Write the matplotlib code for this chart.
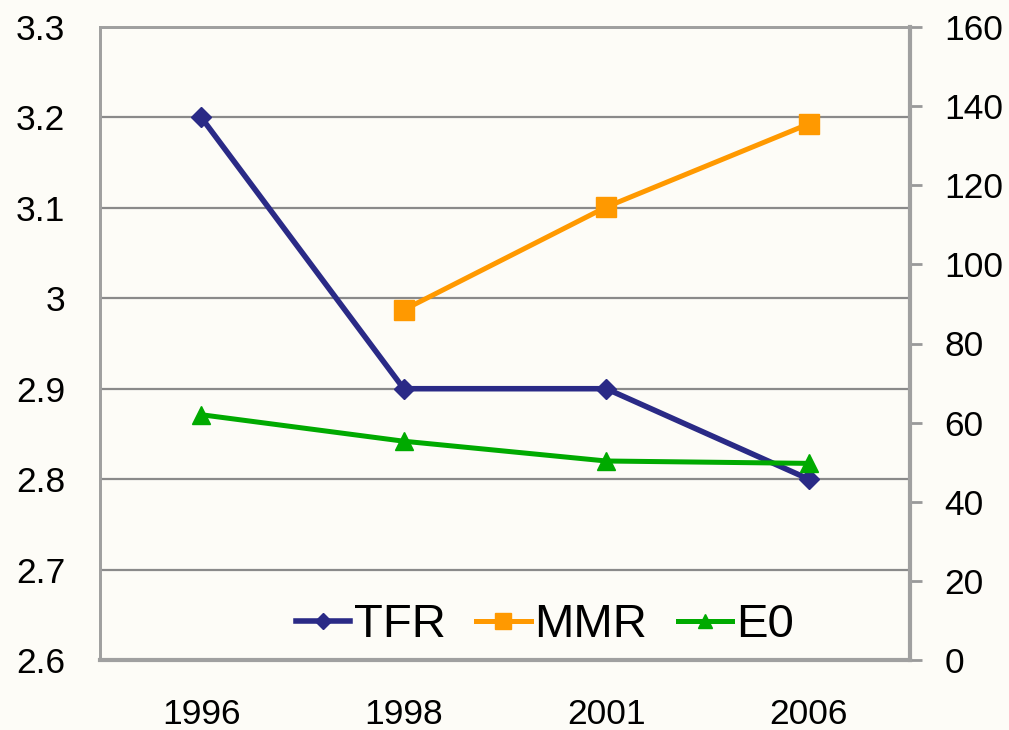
import matplotlib
matplotlib.use("Agg")
import matplotlib.pyplot as plt

years = ["1996", "1998", "2001", "2006"]
tfr = [3.2, 2.9, 2.9, 2.8]
mmr = [None, 88.5, 114.5, 135.5]
e0 = [62, 55.3, 50.3, 49.7]
left_ticks = [2.6, 2.7, 2.8, 2.9, 3.0, 3.1, 3.2, 3.3]
left_labels = ["2.6", "2.7", "2.8", "2.9", "3", "3.1", "3.2", "3.3"]
right_ticks = [0, 20, 40, 60, 80, 100, 120, 140, 160]

plt.rcParams['font.family'] = ['Liberation Sans', 'DejaVu Sans']
bg = "#fdfcf7"
fig = plt.figure(figsize=(10.09, 7.30), dpi=100, facecolor=bg)
ax = fig.add_axes([100/1009, 70/730, 810/1009, 633/730], facecolor=bg)
ax2 = ax.twinx()

x = list(range(len(years)))
navy = "#2a2a86"
orange = "#ff9900"
green = "#00aa00"

l1, = ax.plot(x, tfr, color=navy, lw=4, marker="D", ms=10, label="TFR", zorder=5)
mx = [i for i, v in enumerate(mmr) if v is not None]
my = [v for v in mmr if v is not None]
l2, = ax2.plot(mx, my, color=orange, lw=3.6, marker="s", ms=14, label="MMR", zorder=5)
l3, = ax2.plot(x, e0, color=green, lw=3.6, marker="^", ms=13, label="E0", zorder=5)

ax.set_xlim(-0.5, 3.5)
ax.set_ylim(2.6, 3.3)
ax2.set_ylim(0, 160)
ax.set_xticks(x)
ax.set_xticklabels(years)
ax.set_yticks(left_ticks)
ax.set_yticklabels(left_labels)
ax2.set_yticks(right_ticks)

ax.grid(axis="y", color="#8a8a8a", lw=1.6)
ax.set_axisbelow(True)
ax.tick_params(axis="x", length=0, pad=27, labelsize=25.5)
ax.tick_params(axis="y", length=0, pad=25, labelsize=25.5)
ax2.tick_params(axis="y", length=8.6, width=2, color="#999999", pad=16, labelsize=25.5, direction="out")

for a in (ax, ax2):
    for s in a.spines.values():
        s.set_color("#a0a0a0")
        s.set_linewidth(2)
ax2.spines["right"].set_linewidth(3)
ax2.spines["bottom"].set_linewidth(3)

leg = ax2.legend(handles=[l1, l2, l3], ncol=3, frameon=False, fontsize=34,
                 loc="center", bbox_to_anchor=(0.549, 0.055),
                 handlelength=1.15, handletextpad=0.08, columnspacing=0.65,
                 markerscale=0.8)

fig.savefig("out.png", dpi=100, facecolor=bg)
